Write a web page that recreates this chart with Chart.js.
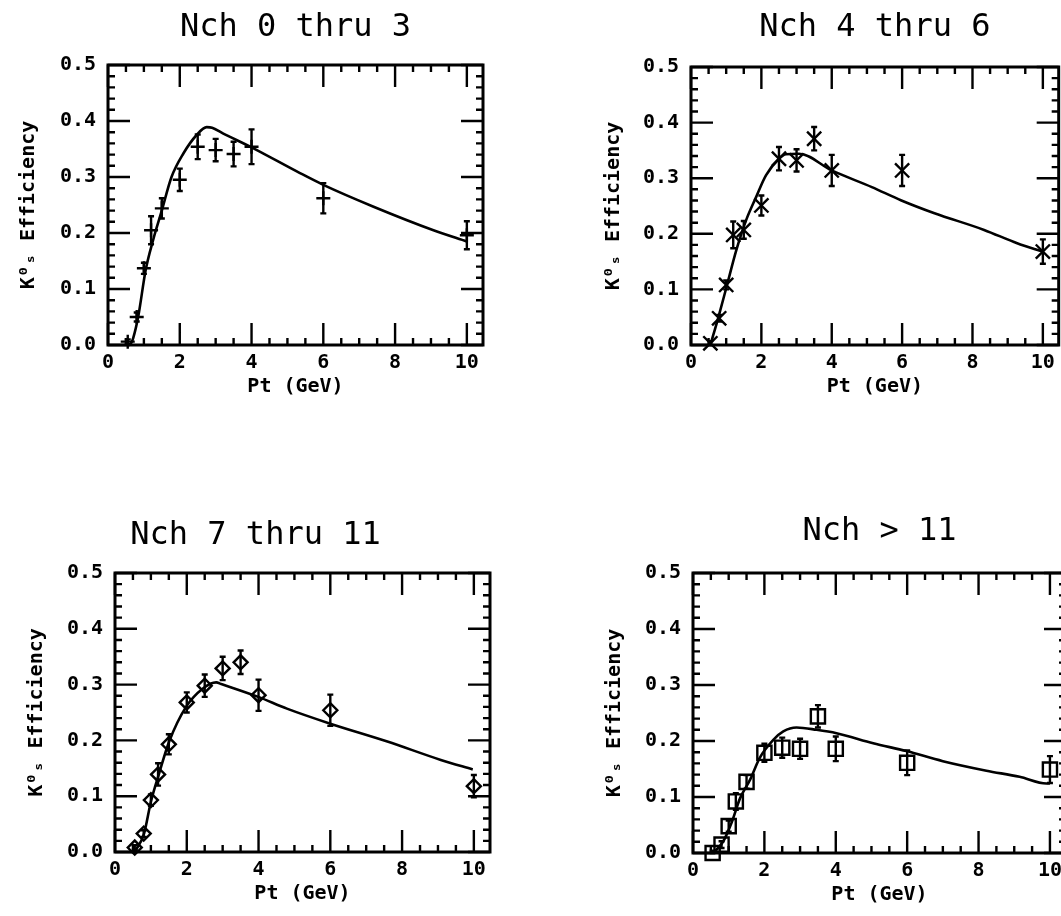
<!DOCTYPE html>
<html>
<head>
<meta charset="utf-8">
<title>K0s efficiency vs Pt</title>
<script src="https://cdn.jsdelivr.net/npm/chart.js@4.4.1/dist/chart.umd.min.js"></script>
<style>
  html, body { margin: 0; padding: 0; background: #fff; overflow: hidden; }
  body { width: 1061px; height: 916px; position: relative; }
  canvas { position: absolute; }
</style>
</head>
<body>
<canvas id="c1"></canvas>
<canvas id="c2"></canvas>
<canvas id="c3"></canvas>
<canvas id="c4"></canvas>
<script>
// Data
const titles = ['Nch 0 thru 3', 'Nch 4 thru 6', 'Nch 7 thru 11', 'Nch > 11'];
const xTitle = 'Pt (GeV)';
const yTitle = 'K\u2070\u209B Efficiency';

const xTicks = [0, 2, 4, 6, 8, 10];
const xTickLabels = ['0', '2', '4', '6', '8', '10'];
const yTicks = [0, 0.1, 0.2, 0.3, 0.4, 0.5];
const yTickLabels = ['0.0', '0.1', '0.2', '0.3', '0.4', '0.5'];

// Pt bins of the measured points
const ptBins = [0.55, 0.8, 1.0, 1.2, 1.5, 2.0, 2.5, 3.0, 3.5, 4.0, 6.0, 10.0];

// Nch 0 thru 3
const eff1 = [0.006, 0.050, 0.137, 0.205, 0.244, 0.295, 0.354, 0.348, 0.341, 0.354, 0.262, 0.196];
const err1 = [0.004, 0.008, 0.010, 0.025, 0.018, 0.020, 0.022, 0.020, 0.022, 0.031, 0.027, 0.025];
const fitX1 = [0.62, 0.70, 0.84, 1.05, 1.26, 1.49, 1.77, 2.10, 2.47, 2.75, 2.90, 3.20, 4.00, 5.35, 6.00, 7.40, 9.07, 10.0];
const fitY1 = [0.000, 0.012, 0.050, 0.134, 0.188, 0.238, 0.300, 0.342, 0.375, 0.389, 0.388, 0.378, 0.353, 0.307, 0.286, 0.247, 0.205, 0.185];

// Nch 4 thru 6
const eff2 = [0.003, 0.048, 0.108, 0.198, 0.207, 0.251, 0.335, 0.332, 0.371, 0.314, 0.314, 0.168];
const err2 = [0.004, 0.006, 0.008, 0.024, 0.016, 0.018, 0.021, 0.020, 0.021, 0.028, 0.028, 0.022];
const fitX2 = [0.55, 0.77, 1.00, 1.29, 1.57, 1.85, 2.13, 2.50, 2.70, 3.07, 4.00, 5.14, 5.98, 6.92, 8.33, 9.27, 10.0];
const fitY2 = [0.000, 0.048, 0.102, 0.171, 0.225, 0.266, 0.305, 0.335, 0.343, 0.344, 0.314, 0.284, 0.260, 0.237, 0.207, 0.183, 0.168];

// Nch 7 thru 11
const eff3 = [0.008, 0.033, 0.093, 0.139, 0.193, 0.268, 0.298, 0.329, 0.340, 0.281, 0.254, 0.118];
const err3 = [0.004, 0.006, 0.010, 0.020, 0.018, 0.018, 0.020, 0.021, 0.021, 0.028, 0.028, 0.020];
const fitX3 = [0.55, 0.81, 1.00, 1.23, 1.51, 1.98, 2.45, 2.82, 2.96, 3.99, 4.79, 6.00, 7.59, 9.08, 9.97];
const fitY3 = [0.000, 0.033, 0.090, 0.141, 0.198, 0.260, 0.293, 0.304, 0.301, 0.278, 0.257, 0.230, 0.198, 0.165, 0.148];

// Nch > 11
const eff4 = [0.000, 0.015, 0.048, 0.092, 0.127, 0.179, 0.188, 0.186, 0.244, 0.186, 0.161, 0.149];
const err4 = [0.004, 0.006, 0.010, 0.015, 0.012, 0.016, 0.018, 0.018, 0.020, 0.022, 0.022, 0.024];
const fitX4 = [0.57, 0.85, 1.08, 1.32, 1.60, 1.87, 2.25, 2.53, 2.90, 3.46, 4.02, 5.05, 5.98, 7.00, 8.22, 9.15, 9.90, 10.0];
const fitY4 = [0.000, 0.021, 0.054, 0.098, 0.131, 0.170, 0.202, 0.217, 0.224, 0.220, 0.214, 0.196, 0.182, 0.164, 0.147, 0.136, 0.124, 0.124];

const X_MAX = 10.45;
const FONT = "'DejaVu Sans Mono', 'Liberation Mono', monospace";

// Panel layout (canvas box and wanted plot frame, page pixels)
const panels = [
  { id: 'c1', title: titles[0], eff: eff1, err: err1, fitX: fitX1, fitY: fitY1,
    marker: 'cross', radius: 7,
    box: { left: 0, top: 0, width: 500, height: 430 },
    area: { left: 108, top: 65, right: 483, bottom: 345 },
    titleY: 28, yTitleX: 29, titleFull: false },
  { id: 'c2', title: titles[1], eff: eff2, err: err2, fitX: fitX2, fitY: fitY2,
    marker: 'crossRot', radius: 10,
    box: { left: 590, top: 0, width: 471, height: 430 },
    area: { left: 691, top: 67, right: 1059, bottom: 345 },
    titleY: 28, yTitleX: 614, titleFull: false },
  { id: 'c3', title: titles[2], eff: eff3, err: err3, fitX: fitX3, fitY: fitY3,
    marker: 'rectRot', radius: 7,
    box: { left: 0, top: 480, width: 530, height: 436 },
    area: { left: 115, top: 573, right: 490, bottom: 852 },
    titleY: 536, yTitleX: 37, titleFull: true },
  { id: 'c4', title: titles[3], eff: eff4, err: err4, fitX: fitX4, fitY: fitY4,
    marker: 'rect', radius: 10,
    box: { left: 590, top: 480, width: 480, height: 436 },
    area: { left: 693, top: 573, right: 1066, bottom: 853 },
    titleY: 532, yTitleX: 615, titleFull: false }
];

// Inward ticks on all four sides plus the frame
const frameTicks = {
  id: 'frameTicks',
  afterDatasetsDraw(chart, args, opts) {
    const { ctx, chartArea: a } = chart;
    const x = chart.scales.x, y = chart.scales.y;
    ctx.save();
    ctx.strokeStyle = opts.color;
    ctx.lineWidth = opts.tickWidth;
    ctx.beginPath();
    for (let i = 0; i * opts.xMinor <= x.max + 1e-9; i++) {
      const v = i * opts.xMinor;
      const px = x.getPixelForValue(v);
      const len = (v % opts.xMajor < 1e-6) ? opts.major : opts.minor;
      ctx.moveTo(px, a.bottom); ctx.lineTo(px, a.bottom - len);
      ctx.moveTo(px, a.top); ctx.lineTo(px, a.top + len);
    }
    for (let i = 0; i * opts.yMinor <= y.max + 1e-9; i++) {
      const py = y.getPixelForValue(i * opts.yMinor);
      const len = (i % opts.yPerMajor === 0) ? opts.major : opts.minor;
      ctx.moveTo(a.left, py); ctx.lineTo(a.left + len, py);
      ctx.moveTo(a.right, py); ctx.lineTo(a.right - len, py);
    }
    ctx.stroke();
    ctx.lineWidth = opts.frameWidth;
    ctx.strokeRect(a.left, a.top, a.right - a.left, a.bottom - a.top);
    ctx.restore();
  }
};

// Vertical error bars with small caps
const errorBars = {
  id: 'errorBars',
  afterDatasetsDraw(chart, args, opts) {
    const { ctx } = chart;
    const y = chart.scales.y;
    chart.data.datasets.forEach((ds, i) => {
      if (!ds.errors) return;
      const meta = chart.getDatasetMeta(i);
      ctx.save();
      ctx.strokeStyle = opts.color;
      ctx.lineWidth = opts.width;
      ctx.beginPath();
      meta.data.forEach((pt, j) => {
        const v = ds.data[j].y, e = ds.errors[j];
        const top = y.getPixelForValue(v + e);
        const bot = Math.min(y.getPixelForValue(v - e), chart.chartArea.bottom);
        ctx.moveTo(pt.x, top); ctx.lineTo(pt.x, bot);
        ctx.moveTo(pt.x - opts.cap, top); ctx.lineTo(pt.x + opts.cap, top);
        ctx.moveTo(pt.x - opts.cap, bot); ctx.lineTo(pt.x + opts.cap, bot);
      });
      ctx.stroke();
      ctx.restore();
    });
  }
};

function makePanel(p) {
  const canvas = document.getElementById(p.id);
  canvas.width = p.box.width;
  canvas.height = p.box.height;
  canvas.style.left = p.box.left + 'px';
  canvas.style.top = p.box.top + 'px';

  const titleSize = 32, titleLH = titleSize * 1.2;
  const axisSize = 20, axisLH = axisSize * 1.2, axisTitlePad = 4;

  const padL = p.yTitleX - p.box.left - axisTitlePad - axisLH / 2;
  const yWidth = p.area.left - p.box.left - padL;
  const padR = p.box.left + p.box.width - p.area.right;
  const padT = p.titleY - p.box.top - titleLH / 2;
  const titleBottom = p.area.top - p.box.top - padT - titleLH;
  const xHeight = 58;
  const padB = p.box.top + p.box.height - p.area.bottom - xHeight;

  const points = ptBins.map((v, i) => ({ x: v, y: p.eff[i] }));
  const curve = p.fitX.map((v, i) => ({ x: v, y: p.fitY[i] }));

  return new Chart(canvas, {
    type: 'scatter',
    data: {
      datasets: [
        {
          label: 'fit',
          data: curve,
          showLine: true,
          borderColor: '#000',
          borderWidth: 2.6,
          pointRadius: 0,
          cubicInterpolationMode: 'monotone',
          fill: false
        },
        {
          label: 'data',
          data: points,
          errors: p.err,
          pointStyle: p.marker,
          pointRadius: p.radius,
          pointBorderWidth: 2.4,
          borderColor: '#000',
          backgroundColor: 'rgba(0,0,0,0)',
          clip: false
        }
      ]
    },
    options: {
      responsive: false,
      animation: false,
      events: [],
      layout: { autoPadding: false, padding: { left: padL, right: padR, top: padT, bottom: padB } },
      plugins: {
        legend: { display: false },
        tooltip: { enabled: false },
        title: {
          display: true,
          text: p.title,
          fullSize: p.titleFull,
          color: '#000',
          font: { family: FONT, size: titleSize, weight: 'normal' },
          padding: { top: 0, bottom: titleBottom }
        },
        frameTicks: {
          color: '#000', tickWidth: 2.4, frameWidth: 3,
          major: 22, minor: 7,
          xMinor: 0.5, xMajor: 2, yMinor: 0.02, yPerMajor: 5
        },
        errorBars: { color: '#000', width: 2.4, cap: 3 }
      },
      scales: {
        x: {
          type: 'linear',
          min: 0,
          max: X_MAX,
          grid: { display: false, drawTicks: false },
          border: { display: false },
          afterBuildTicks: (scale) => { scale.ticks = xTicks.map(v => ({ value: v })); },
          afterFit: (scale) => { scale.height = xHeight; },
          ticks: {
            autoSkip: false,
            maxRotation: 0,
            padding: 6,
            color: '#000',
            font: { family: FONT, size: axisSize, weight: 'bold' },
            callback: (v, i) => xTickLabels[i]
          },
          title: {
            display: true,
            text: xTitle,
            color: '#000',
            font: { family: FONT, size: axisSize, weight: 'bold' },
            padding: { top: axisTitlePad, bottom: axisTitlePad }
          }
        },
        y: {
          type: 'linear',
          min: 0,
          max: 0.5,
          grid: { display: false, drawTicks: false },
          border: { display: false },
          afterBuildTicks: (scale) => { scale.ticks = yTicks.map(v => ({ value: v })); },
          afterFit: (scale) => { scale.width = yWidth; },
          ticks: {
            autoSkip: false,
            padding: 12,
            color: '#000',
            font: { family: FONT, size: axisSize, weight: 'bold' },
            callback: (v, i) => yTickLabels[i]
          },
          title: {
            display: true,
            text: yTitle,
            color: '#000',
            font: { family: FONT, size: axisSize, weight: 'bold' },
            padding: { top: axisTitlePad, bottom: axisTitlePad }
          }
        }
      }
    },
    plugins: [errorBars, frameTicks]
  });
}

panels.forEach(makePanel);
</script>
</body>
</html>
